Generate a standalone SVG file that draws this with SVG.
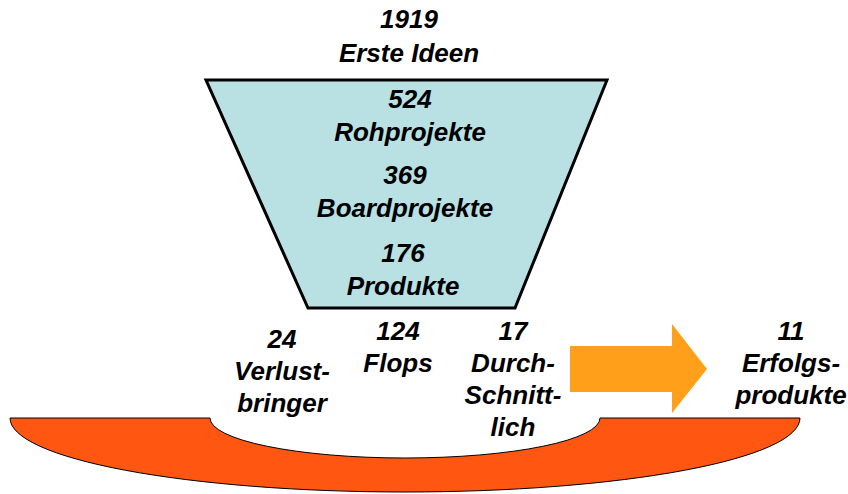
<svg xmlns="http://www.w3.org/2000/svg" width="848" height="494" viewBox="0 0 848 494">
<style>
text{font-family:"Liberation Sans",Arial,sans-serif;font-weight:bold;font-style:italic;font-size:26px;fill:#000;text-anchor:middle}
</style>
<rect width="848" height="494" fill="#fff"/>
<g id="bowl">
<path d="M10,418 L210,418 A195,40 0 0 0 600,418 L800,418 A395,74 0 0 1 10,418 Z" fill="#FF5712" stroke="#000" stroke-width="1"/>
</g>
<g id="funnel">
<path d="M206,80 L607,80 L515,308 L308,308 Z" fill="#B9E0E3" stroke="#000" stroke-width="3"/>
</g>
<g id="arrow">
<path d="M570,346 L672,346 L672,324 L707,369 L672,413 L672,392 L570,392 Z" fill="#FF9F1A"/>
</g>
<g id="top-label"><text x="409" y="28">1919</text><text x="409" y="62">Erste Ideen</text></g>
<g id="roh"><text x="410" y="108">524</text><text x="410" y="141">Rohprojekte</text></g>
<g id="board"><text x="405" y="184">369</text><text x="405" y="217">Boardprojekte</text></g>
<g id="produkte"><text x="403" y="262">176</text><text x="403" y="295">Produkte</text></g>
<g id="verlust"><text x="282" y="348">24</text><text x="282" y="380">Verlust-</text><text x="282" y="412">bringer</text></g>
<g id="flops"><text x="398" y="340">124</text><text x="398" y="372">Flops</text></g>
<g id="durch"><text x="513" y="340">17</text><text x="513" y="372">Durch-</text><text x="513" y="404">Schnitt-</text><text x="513" y="436">lich</text></g>
<g id="erfolg"><text x="791" y="340">11</text><text x="791" y="372">Erfolgs-</text><text x="791" y="404">produkte</text></g>
<g id="connectors"/>
</svg>
